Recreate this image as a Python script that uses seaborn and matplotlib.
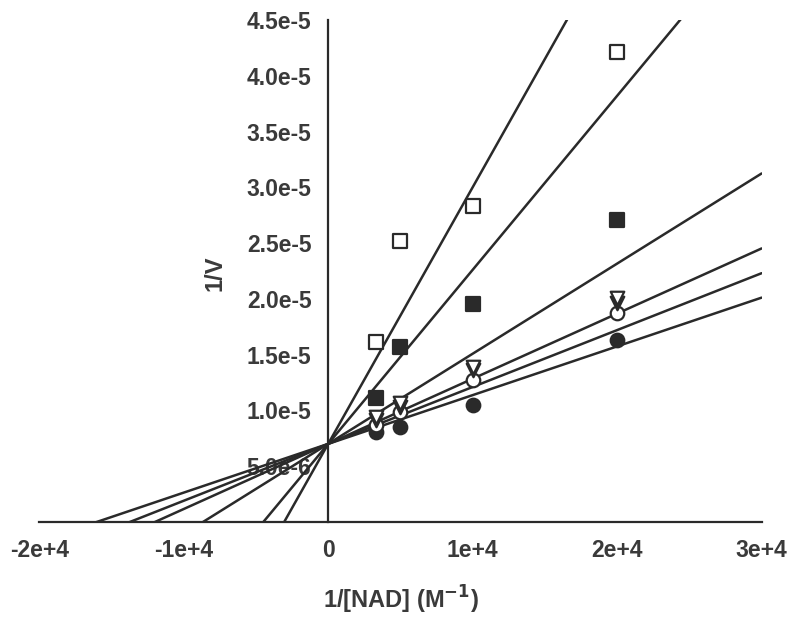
import numpy as np
import pandas as pd
import seaborn as sns
import matplotlib.pyplot as plt

# 1/[NAD] values (M^-1) and 1/V for each inhibitor level
inv_nad = [3333, 5000, 10000, 20000]
series_names = ["filled circle", "open circle", "filled triangle",
                "open triangle", "filled square", "open square"]
inv_v = {
    "filled circle":   [8.1e-6, 8.5e-6, 1.05e-5, 1.63e-5],
    "open circle":     [8.7e-6, 9.9e-6, 1.27e-5, 1.87e-5],
    "filled triangle": [9.1e-6, 1.03e-5, 1.36e-5, 1.96e-5],
    "open triangle":   [9.4e-6, 1.07e-5, 1.39e-5, 2.01e-5],
    "filled square":   [1.11e-5, 1.57e-5, 1.95e-5, 2.71e-5],
    "open square":     [1.61e-5, 2.52e-5, 2.83e-5, 4.21e-5],
}
# fitted lines: common intercept, one slope per series
intercept = 7.0e-6
slopes = [4.37e-10, 5.10e-10, 5.84e-10, 8.08e-10, 1.56e-9, 2.30e-9]

x_ticks = [-2e4, -1e4, 0, 1e4, 2e4, 3e4]
x_tick_labels = ["-2e+4", "-1e+4", "0", "1e+4", "2e+4", "3e+4"]
y_ticks = [5e-6, 1e-5, 1.5e-5, 2e-5, 2.5e-5, 3e-5, 3.5e-5, 4e-5, 4.5e-5]
y_tick_labels = ["5.0e-6", "1.0e-5", "1.5e-5", "2.0e-5", "2.5e-5",
                 "3.0e-5", "3.5e-5", "4.0e-5", "4.5e-5"]

sns.set_style("white")
plt.rcParams["font.family"] = ["Liberation Sans", "DejaVu Sans"]

ink = "#2a2a2a"
text_col = "#3a3a3a"

pts = pd.DataFrame([
    {"series": s, "x": x, "y": y}
    for s in series_names for x, y in zip(inv_nad, inv_v[s])
])
x_line = np.linspace(x_ticks[0], x_ticks[-1], 200)
lines = pd.DataFrame([
    {"series": s, "x": x, "y": intercept + m * x}
    for s, m in zip(series_names, slopes) for x in x_line
])

fig = plt.figure(figsize=(8, 6.34), dpi=100)
ax = fig.add_axes([0.049, 0.1767, 0.903, 0.7918])

sns.lineplot(data=lines, x="x", y="y", hue="series",
             palette=[ink] * len(series_names), legend=False,
             linewidth=1.8, ax=ax, zorder=3)

marker_style = {
    "filled circle":   ("o", ink),
    "open circle":     ("o", "white"),
    "filled triangle": ("v", ink),
    "open triangle":   ("v", "white"),
    "filled square":   ("s", ink),
    "open square":     ("s", "white"),
}
for s in series_names:
    m, face = marker_style[s]
    sns.scatterplot(data=pts[pts["series"] == s], x="x", y="y",
                    marker=m, s=95, facecolor=face, edgecolor=ink,
                    linewidth=1.6, ax=ax, zorder=4, legend=False)

ax.set_xlim(x_ticks[0], x_ticks[-1])
ax.set_ylim(0, 4.5e-5)
ax.set_xticks(x_ticks)
ax.set_xticklabels(x_tick_labels)
ax.set_yticks(y_ticks)
ax.set_yticklabels(y_tick_labels)

ax.spines["left"].set_position(("data", 0))
ax.spines["top"].set_visible(False)
ax.spines["right"].set_visible(False)
for sp in ["left", "bottom"]:
    ax.spines[sp].set_linewidth(1.6)
    ax.spines[sp].set_color(ink)

ax.tick_params(axis="both", direction="out", length=6, width=1.6,
               color=ink, labelsize=16.5, labelcolor=text_col, pad=6)
for lab in ax.get_xticklabels() + ax.get_yticklabels():
    lab.set_fontweight("bold")

ax.set_xlabel("1/[NAD] (M$^{\\mathbf{-1}}$)", fontsize=17,
              fontweight="bold", color=text_col, labelpad=16)
ax.set_ylabel("")
ax.text(0.243, 0.495, "1/V", transform=ax.transAxes, rotation=90,
        fontsize=17, fontweight="bold", color=text_col,
        ha="center", va="center")

fig.savefig("out.png", dpi=100)
